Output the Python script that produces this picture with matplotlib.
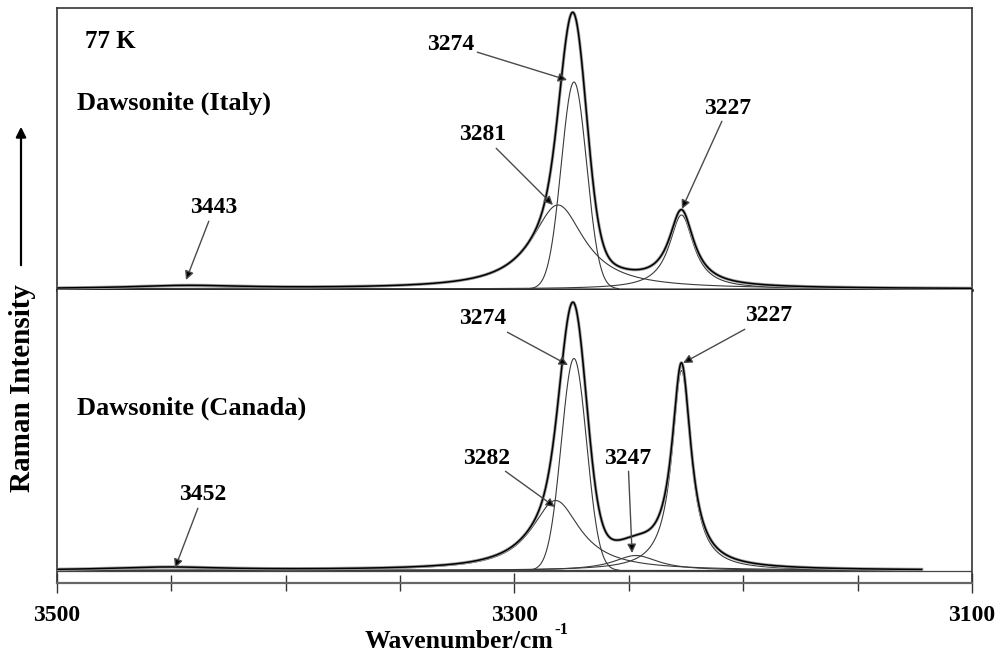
import numpy as np
import matplotlib
matplotlib.use("Agg")
import matplotlib.pyplot as plt
from matplotlib.patches import FancyArrowPatch

plt.rcParams['font.family'] = ['Liberation Serif', 'DejaVu Serif']
plt.rcParams['font.weight'] = 'bold'

# ---- band-fit parameters (cm^-1, arbitrary intensity) ----
italy_centres = [3443, 3281, 3274, 3227]
italy_heights = [3, 84, 207, 74]
italy_fwhm = [60, 28, 13, 13]
italy_shapes = ['L', 'L', 'G', 'L']

canada_centres = [3452, 3282, 3274, 3247, 3227]
canada_heights = [3, 70, 212, 15, 200]
canada_fwhm = [60, 26, 13, 24, 10]
canada_shapes = ['L', 'L', 'G', 'L', 'L']

tick_values = [3500, 3450, 3400, 3350, 3300, 3250, 3200, 3150, 3100]
tick_labels = ['3500', '', '', '', '3300', '', '', '', '3100']


def band(x, centre, height, fwhm, shape):
    if shape == 'G':
        sigma = fwhm / 2.3548
        return height * np.exp(-0.5 * ((x - centre) / sigma) ** 2)
    hw = fwhm / 2.0
    return height / (1.0 + ((x - centre) / hw) ** 2)


W, H = 1005, 659
fig = plt.figure(figsize=(W / 100, H / 100), dpi=100)
x_left, x_right = 57, 972
ax_top = fig.add_axes([x_left / W, 1 - 290 / H, (x_right - x_left) / W, 282 / H])
ax_bot = fig.add_axes([x_left / W, 1 - 583 / H, (x_right - x_left) / W, 293 / H])

frame_col = '#333333'
comp_col = '#3a3a3a'


def draw_panel(ax, centres, heights, fwhm, shapes, x_end):
    x = np.linspace(3500, x_end, 3000)
    total = np.zeros_like(x)
    for c, h, w, s in zip(centres, heights, fwhm, shapes):
        y = band(x, c, h, w, s)
        total += y
        if s == 'G':
            m = y > 0.4
            ax.plot(x[m], y[m], color=comp_col, lw=0.8, zorder=2)
        else:
            ax.plot(x, y, color=comp_col, lw=0.8, zorder=2)
    ax.plot(x, total, color='#a0a0a0', lw=2.3, zorder=3)
    ax.plot(x, total, color='black', lw=1.1, zorder=4)
    ax.set_xlim(3500, 3100)
    ax.set_yticks([])


draw_panel(ax_top, italy_centres, italy_heights, italy_fwhm, italy_shapes, 3100)
draw_panel(ax_bot, canada_centres, canada_heights, canada_fwhm, canada_shapes, 3122)
ax_top.set_ylim(-1, 281)
ax_bot.set_ylim(-12.5, 280.5)
ax_bot.axhline(0, color='#444444', lw=0.9, zorder=1)

for name, sp in ax_top.spines.items():
    sp.set_color(frame_col)
    sp.set_linewidth(1.2)
ax_top.spines['bottom'].set_color('black')
ax_top.spines['bottom'].set_linewidth(1.8)
ax_top.set_xticks([])

for name, sp in ax_bot.spines.items():
    sp.set_color(frame_col)
    sp.set_linewidth(1.2)
ax_bot.spines['top'].set_visible(False)
ax_bot.spines['bottom'].set_color('#666666')
ax_bot.spines['bottom'].set_linewidth(1.6)

ax_bot.set_xticks(tick_values)
ax_bot.set_xticklabels(tick_labels)
ax_bot.tick_params(axis='x', direction='inout', length=11, width=1.0, color=frame_col,
                   labelsize=17, pad=10.5)
for t, lab in zip(ax_bot.xaxis.get_major_ticks(), tick_labels):
    if lab:
        t.tick1line.set_markersize(15)

# peak labels with arrows
arrow_kw = dict(arrowstyle='-|>', fc='black', ec='#4a4a4a', lw=1.0,
                mutation_scale=13, shrinkA=0, shrinkB=0)
italy_notes = [('3274', (3277, 209), (3327.8, 245)),
               ('3281', (3283.2, 84), (3313.8, 154)),
               ('3227', (3226.8, 80), (3206.7, 181)),
               ('3443', (3443.6, 9), (3431.4, 81))]
canada_notes = [('3274', (3276.6, 205.5), (3313.8, 251.5)),
                ('3227', (3226.3, 207.5), (3188.7, 254.5)),
                ('3282', (3282.3, 63.5), (3312.0, 112.5)),
                ('3247', (3248.6, 17.5), (3250.4, 112.5)),
                ('3452', (3448.4, 2.5), (3436.2, 75.5))]
for ax, notes in ((ax_top, italy_notes), (ax_bot, canada_notes)):
    for txt, tip, pos in notes:
        ax.annotate(txt, xy=tip, xytext=pos, ha='center', va='center',
                    fontsize=17, fontweight='bold', arrowprops=arrow_kw, zorder=6)

ax_top.text((85 - x_left) / 915, (290 - 48) / 282, '77 K', transform=ax_top.transAxes,
            fontsize=18, fontweight='bold', ha='left', va='baseline')
ax_top.text((77 - x_left) / 915, (290 - 110) / 282, 'Dawsonite (Italy)',
            transform=ax_top.transAxes, fontsize=19, fontweight='bold',
            ha='left', va='baseline')
ax_bot.text((77 - x_left) / 915, (583 - 415) / 293, 'Dawsonite (Canada)',
            transform=ax_bot.transAxes, fontsize=19, fontweight='bold',
            ha='left', va='baseline')

# x-axis title with a raised "-1"
fig.text(553 / W, 1 - 648 / H, 'Wavenumber/cm', ha='right', va='baseline',
         fontsize=18.5, fontweight='bold')
fig.text(554 / W, 1 - 634 / H, '-1', ha='left', va='baseline',
         fontsize=12, fontweight='bold')
fig.text(23 / W, 1 - 388 / H, 'Raman Intensity', rotation=90, ha='center', va='center',
         fontsize=21, fontweight='bold')
fig.add_artist(FancyArrowPatch((21 / W, 1 - 268 / H), (21 / W, 1 - 124 / H),
                               transform=fig.transFigure, arrowstyle='-|>',
                               mutation_scale=15, lw=1.6, color='black'))

fig.savefig('out.png', dpi=100)
